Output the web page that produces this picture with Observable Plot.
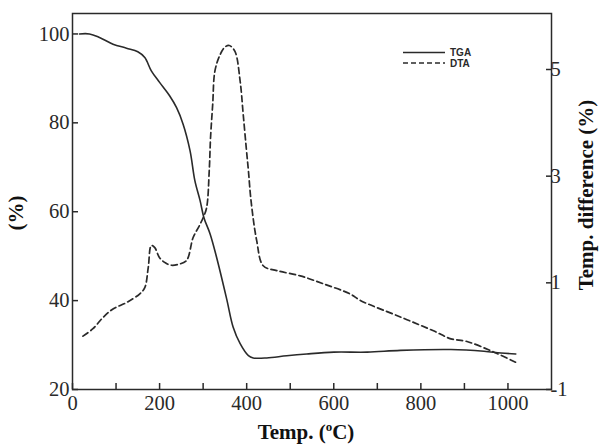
<!DOCTYPE html>
<html><head><meta charset="utf-8">
<script src="https://cdn.jsdelivr.net/npm/d3@7"></script>
<script src="https://cdn.jsdelivr.net/npm/@observablehq/plot@0.6"></script>
<style>body{margin:0;background:#fff}#chart{width:600px;height:446px}</style>
</head><body><div id="chart"></div>
<script>
// TGA: mass remaining (%) vs temperature (°C)
const tgaTemp = [16,39,62,93,124,150,166,181,200,223,239,254,270,281,293,302,316,331,354,369,385,404,415,446,492,538,600,677,753,869,945,984,1018];
const tgaMass = [100,100,99.2,97.7,96.8,96.0,94.7,91.7,89.1,86.1,83.4,79.7,73.7,67.0,62.5,58.6,55.0,49.7,40.4,34.0,30.3,27.6,27.1,27.1,27.6,28.0,28.4,28.4,28.8,29.0,28.6,28.2,28.0];
// DTA: temperature difference (%) vs temperature (°C)
const dtaTemp = [24,47,70,93,124,154,166,174,181,189,200,214,227,245,262,277,290,300,308,314,317,322,327,339,350,360,373,385,392,399,404,410,423,438,469,523,577,638,661,753,829,869,906,968,1018];
const dtaDiff = [0.0,0.14,0.35,0.51,0.63,0.79,0.91,1.29,1.70,1.66,1.47,1.37,1.33,1.35,1.42,1.85,2.05,2.22,2.41,3.10,3.72,4.35,4.97,5.28,5.42,5.45,5.34,4.78,4.16,3.53,3.10,2.54,1.79,1.32,1.23,1.13,0.98,0.79,0.67,0.36,0.10,-0.05,-0.10,-0.30,-0.49];
// ticks
const xMinorTicks = [0,100,200,300,400,500,600,700,800,900,1000];
const xTickLabels = [0,200,400,600,800,1000];
const leftTicks = [20,40,60,80,100];
const rightTicks = [-1,1,3,5];
const seriesNames = ["TGA","DTA"];

const LEFT_MIN = 20, LEFT_MAX = 104.6, RIGHT_MIN = -1, RIGHT_MAX = 6.05;
const toLeft = r => LEFT_MIN + (r - RIGHT_MIN) * (LEFT_MAX - LEFT_MIN) / (RIGHT_MAX - RIGHT_MIN);
const fromLeft = l => RIGHT_MIN + (l - LEFT_MIN) * (RIGHT_MAX - RIGHT_MIN) / (LEFT_MAX - LEFT_MIN);

const tga = tgaTemp.map((t, i) => ({t, v: tgaMass[i]}));
const dta = dtaTemp.map((t, i) => ({t, v: toLeft(dtaDiff[i])}));

const serif = "'Liberation Serif','Times New Roman',serif";
const ink = "#2a2a2a";

const plot = Plot.plot({
  width: 600, height: 446,
  marginLeft: 72, marginRight: 49, marginTop: 13, marginBottom: 57,
  style: {fontFamily: serif, fontSize: "20px", color: ink, background: "#fff", overflow: "visible"},
  x: {domain: [0, 1100]},
  y: {domain: [LEFT_MIN, LEFT_MAX]},
  marks: [
    Plot.frame({stroke: ink, strokeWidth: 1.5}),
    Plot.axisX({ticks: xMinorTicks, tickSize: -6, tickFormat: () => "", label: null, stroke: ink, strokeWidth: 1.5}),
    Plot.axisX({ticks: xTickLabels, tickSize: 0, tickPadding: 6, tickFormat: d => String(d), label: null, fontSize: 20.5}),
    Plot.axisY({ticks: leftTicks, tickSize: -6, tickPadding: 9, tickFormat: d => String(d), label: null, stroke: ink, strokeWidth: 1.5, fontSize: 20.5}),
    Plot.axisY({anchor: "right", ticks: rightTicks.map(toLeft), tickFormat: d => String(Math.round(fromLeft(d))),
      tickSize: -6, tickPadding: 5, label: null, stroke: ink, strokeWidth: 1.5, fontSize: 20.5}),
    Plot.line(tga, {x: "t", y: "v", stroke: ink, strokeWidth: 1.6, curve: "catmull-rom"}),
    Plot.line(dta, {x: "t", y: "v", stroke: ink, strokeWidth: 1.7, strokeDasharray: "6,3.5", curve: "catmull-rom"})
  ]
});
document.getElementById("chart").append(plot);

const svg = d3.select(plot);
// x title with superscript
const xt = svg.append("text").attr("x", 306).attr("y", 439).attr("text-anchor", "middle")
  .attr("font-family", serif).attr("font-weight", "bold").attr("font-size", 21).attr("fill", "#111");
xt.append("tspan").text("Temp. (");
xt.append("tspan").attr("dy", -8).attr("font-size", 13).text("o");
xt.append("tspan").attr("dy", 8).text("C)");
// left title
svg.append("text").attr("transform", "translate(18,213) rotate(-90)").attr("text-anchor", "middle")
  .attr("dominant-baseline", "middle").attr("font-family", serif).attr("font-weight", "bold")
  .attr("font-size", 21).attr("fill", "#111").text("(%)");
// right title
svg.append("text").attr("transform", "translate(588,195) rotate(-90)").attr("text-anchor", "middle")
  .attr("dominant-baseline", "middle").attr("font-family", serif).attr("font-weight", "bold")
  .attr("font-size", 21).attr("fill", "#111").text("Temp. difference (%)");
// legend
const leg = svg.append("g").attr("font-family", "'Liberation Sans',Arial,sans-serif").attr("font-weight", "bold")
  .attr("font-size", 10).attr("fill", ink).attr("text-anchor", "start");
seriesNames.forEach((name, i) => {
  const y = 52.5 + i * 10.5;
  leg.append("line").attr("x1", 403).attr("x2", 445).attr("y1", y).attr("y2", y)
    .attr("stroke", ink).attr("stroke-width", 1.3).attr("stroke-dasharray", i ? "5,3" : null);
  leg.append("text").attr("x", 450).attr("y", y).attr("dy", "0.36em").attr("text-anchor", "start").text(name);
});
</script>
</body></html>
